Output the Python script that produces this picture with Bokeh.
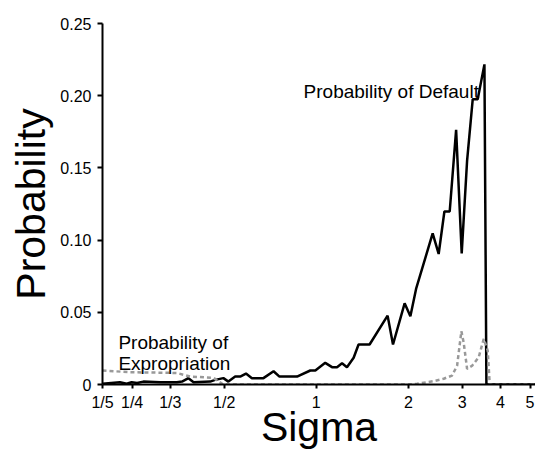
from bokeh.plotting import figure
from bokeh.models import FixedTicker, Label, Range1d
from bokeh.embed import file_html
from bokeh.resources import INLINE

# Probability of default (solid black)
sigma_default = [0.200, 0.228, 0.240, 0.249, 0.2595, 0.272, 0.309, 0.350, 0.364, 0.382,
                 0.397, 0.450, 0.467, 0.497, 0.516, 0.543, 0.564, 0.589, 0.616, 0.672,
                 0.725, 0.758, 0.865, 0.956, 0.993, 1.070, 1.126, 1.169, 1.214, 1.260,
                 1.325, 1.375, 1.494, 1.711, 1.782, 1.945, 2.031, 2.120, 2.402, 2.513,
                 2.624, 2.731, 2.866, 2.989, 3.113, 3.248, 3.372, 3.547, 3.600, 5.21]
p_default = [0.0005, 0.0016, 0.0005, 0.0016, 0.0010, 0.0020, 0.0015, 0.0016, 0.0020, 0.0044,
             0.0016, 0.0020, 0.0032, 0.0044, 0.0020, 0.0055, 0.0055, 0.0076, 0.0044, 0.0044,
             0.0092, 0.0055, 0.0055, 0.0097, 0.0097, 0.0150, 0.0120, 0.0120, 0.0147, 0.0120,
             0.0185, 0.0277, 0.0277, 0.0477, 0.0277, 0.0562, 0.0472, 0.0662, 0.1046, 0.0904,
             0.1198, 0.1198, 0.1763, 0.0908, 0.1550, 0.1976, 0.1976, 0.2217, 0.0, 0.0]

# Probability of expropriation (dashed grey)
sigma_expr = [0.200, 0.246, 0.350, 0.387, 0.461, 0.496, 2.000, 2.136, 2.420, 2.610,
              2.780, 2.887, 2.982, 3.034, 3.113, 3.233, 3.398, 3.528, 3.636, 3.691, 5.21]
p_expr = [0.0097, 0.0085, 0.0080, 0.0055, 0.0046, 0.0, 0.0, 0.0005, 0.0023, 0.0040,
          0.0062, 0.0130, 0.0369, 0.0290, 0.0108, 0.0130, 0.0189, 0.0316, 0.0235, 0.0, 0.0]

x_ticks = [0.2, 0.25, 1/3, 0.5, 1, 2, 3, 4, 5]
x_tick_labels = ["1/5", "1/4", "1/3", "1/2", "1", "2", "3", "4", "5"]
y_ticks = [0, 0.05, 0.10, 0.15, 0.20, 0.25]
y_tick_labels = ["0", "0.05", "0.10", "0.15", "0.20", "0.25"]

FONT = "Liberation Sans"

p = figure(width=535, height=452, x_axis_type="log",
           x_range=Range1d(0.2, 5.21), y_range=Range1d(0, 0.25),
           output_backend="svg", toolbar_location=None,
           min_border_left=102, min_border_right=0, min_border_top=23, min_border_bottom=68)
p.outline_line_color = None
p.xgrid.visible = False
p.ygrid.visible = False
p.background_fill_color = "white"
p.border_fill_color = "white"

p.line(sigma_default, p_default, line_color="black", line_width=2.5)
p.line(sigma_expr, p_expr, line_color="#999999", line_width=2.5, line_dash="4 3")

p.xaxis.ticker = FixedTicker(ticks=x_ticks)
p.xaxis.major_label_overrides = {t: l for t, l in zip(x_ticks, x_tick_labels)}
p.yaxis.ticker = FixedTicker(ticks=y_ticks)
p.yaxis.major_label_overrides = {t: l for t, l in zip(y_ticks, y_tick_labels)}

for ax in (p.xaxis[0], p.yaxis[0]):
    ax.axis_line_width = 2
    ax.axis_line_color = "black"
    ax.major_tick_line_width = 2
    ax.major_tick_in = 0
    ax.minor_tick_out = 0
    ax.minor_tick_in = 0
    ax.major_label_text_font = FONT
    ax.major_label_text_font_size = "16px"
    ax.major_label_text_color = "black"
    ax.axis_label_text_font = FONT
    ax.axis_label_text_font_size = "41px"
    ax.axis_label_text_font_style = "normal"
    ax.axis_label_text_color = "black"

p.xaxis.major_tick_out = 4
p.xaxis.major_label_standoff = 5
p.xaxis.axis_label = "Sigma"
p.xaxis.axis_label_standoff = -10
p.yaxis.major_tick_out = 5
p.yaxis.major_label_standoff = 6
p.yaxis.axis_label = "Probability"
p.yaxis.axis_label_standoff = 3

p.add_layout(Label(x=0.909, y=0.2028, text="Probability of Default",
                   text_font=FONT, text_font_size="19px", text_color="black",
                   text_baseline="alphabetic"))
p.add_layout(Label(x=0.2254, y=0.02925, text="Probability of",
                   text_font=FONT, text_font_size="19px", text_color="black",
                   text_baseline="alphabetic"))
p.add_layout(Label(x=0.2254, y=0.01473, text="Expropriation",
                   text_font=FONT, text_font_size="19px", text_color="black",
                   text_baseline="alphabetic"))

open("out.html", "w").write(file_html(p, INLINE))
